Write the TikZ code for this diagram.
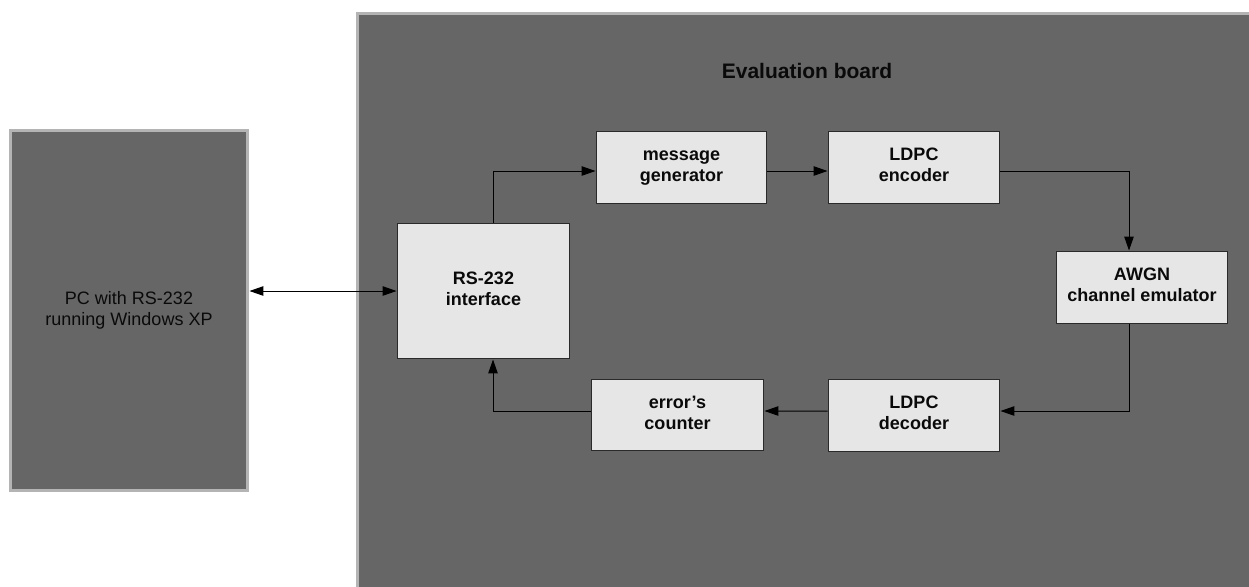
\documentclass[tikz,border=0pt]{standalone}
\usepackage{fontspec}
\setmainfont{Liberation Sans}
\usetikzlibrary{arrows.meta}
\definecolor{boardfill}{HTML}{666666}
\definecolor{boardline}{HTML}{B4B4B4}
\definecolor{boxfill}{HTML}{E6E6E6}
\definecolor{boxline}{HTML}{2A2A2A}
\definecolor{txt}{HTML}{0A0A0A}
\begin{document}
\begin{tikzpicture}[x=0.02cm,y=-0.02cm,
  bigbox/.style={draw=boardline, line width=0.06cm, fill=boardfill, inner sep=0pt},
  blockbox/.style={draw=boxline, line width=0.02cm, fill=boxfill, inner sep=0pt,
     align=center, text=txt, font=\fontsize{10.25pt}{11.8pt}\selectfont\bfseries},
  conn/.style={draw=black, line width=0.02cm, -{Triangle[length=0.28cm,width=0.19cm]}},
  biconn/.style={draw=black, line width=0.02cm, {Triangle[length=0.28cm,width=0.19cm]}-{Triangle[length=0.28cm,width=0.19cm]}}
]
\useasboundingbox (0,0) rectangle (1249,586);
\clip (0,0) rectangle (1249,586);
\fill[white] (0,0) rectangle (1249,586);

% outer boxes
\node[bigbox, minimum width=4.76cm, minimum height=7.22cm, align=center,
      font=\fontsize{10.25pt}{11.8pt}\selectfont, text=txt] (pc) at (129,310.5)
      {PC with RS-232\strut\\running Windows XP\strut};
\node[bigbox, anchor=north west, minimum width=20cm, minimum height=14cm] (board) at (355.5,11.5) {};
\node[font=\fontsize{11.95pt}{14pt}\selectfont\bfseries, text=txt] (title) at (807,71) {Evaluation board};

% blocks
\node[blockbox, minimum width=3.46cm, minimum height=2.72cm] (rs) at (483.5,291) {RS-232\strut\\interface\strut};
\node[blockbox, minimum width=3.42cm, minimum height=1.44cm] (msg) at (681.5,167) {message\strut\\generator\strut};
\node[blockbox, minimum width=3.44cm, minimum height=1.44cm] (enc) at (914,167) {LDPC\strut\\encoder\strut};
\node[blockbox, minimum width=3.44cm, minimum height=1.44cm] (awgn) at (1142,287) {AWGN\strut\\channel emulator\strut};
\node[blockbox, minimum width=3.44cm, minimum height=1.44cm] (dec) at (914,415) {LDPC\strut\\decoder\strut};
\node[blockbox, minimum width=3.46cm, minimum height=1.42cm] (cnt) at (677.5,414.5) {error’s\strut\\counter\strut};

% connectors
\draw[biconn] (pc.east |- rs.west) -- (rs.west);
\draw[conn] ([xshift=0.19cm]rs.north) |- ([yshift=-0.08cm]msg.west);
\draw[conn] ([yshift=-0.08cm]msg.east) -- ([yshift=-0.08cm]enc.west);
\draw[conn] ([yshift=-0.08cm]enc.east) -| ([xshift=-0.26cm]awgn.north);
\draw[conn] ([xshift=-0.26cm]awgn.south) |- ([yshift=0.08cm]dec.east);
\draw[conn] ([yshift=0.08cm]dec.west) -- ([yshift=0.07cm]cnt.east);
\draw[conn] ([yshift=0.07cm]cnt.west) -| ([xshift=0.19cm]rs.south);
\end{tikzpicture}
\end{document}
